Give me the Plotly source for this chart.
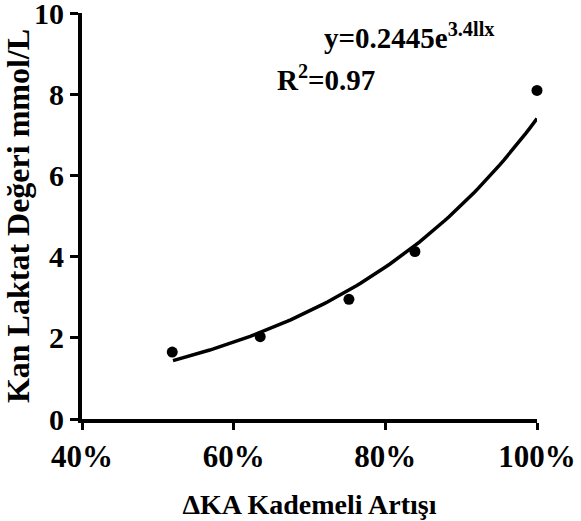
import numpy as np
import plotly.graph_objects as go

# Data
load_pct = [0.519, 0.635, 0.752, 0.839, 1.0]
lactate = [1.65, 2.03, 2.95, 4.13, 8.1]

# Displayed exponential trend: y = a * e^(b x)
fit_a = 0.2445
fit_b = 3.411
fit_x_start = 0.52
fit_x_end = 1.0

x_tick_vals = [0.4, 0.6, 0.8, 1.0]
x_tick_text = ["40%", "60%", "80%", "100%"]
y_tick_vals = [0, 2, 4, 6, 8, 10]

FONT = "Liberation Serif"

fit_x = np.linspace(fit_x_start, fit_x_end, 100)
fit_y = fit_a * np.exp(fit_b * fit_x)

fig = go.Figure()
fig.add_trace(go.Scatter(
    x=fit_x, y=fit_y, mode="lines",
    line=dict(color="black", width=3.5),
    cliponaxis=False, showlegend=False, hoverinfo="skip"))
fig.add_trace(go.Scatter(
    x=load_pct, y=lactate, mode="markers",
    marker=dict(color="black", size=11),
    cliponaxis=False, showlegend=False))

fig.update_layout(
    width=581, height=521,
    margin=dict(l=82, r=44, t=13, b=102),
    paper_bgcolor="white", plot_bgcolor="white",
    font=dict(family=FONT, color="black"),
    xaxis=dict(
        range=[0.4, 1.0], tickvals=x_tick_vals, ticktext=x_tick_text,
        showline=True, linecolor="black", linewidth=4,
        ticks="outside", ticklen=7, tickwidth=3, tickcolor="black",
        showgrid=False, zeroline=False, automargin=False,
        ticklabeloverflow="allow",
        tickfont=dict(family=FONT, size=31, color="black", weight="bold"),
        title=dict(text="<b>ΔKA Kademeli Artışı</b>",
                   font=dict(family=FONT, size=28, color="black"),
                   standoff=22),
    ),
    yaxis=dict(
        range=[0, 10.01], tickvals=y_tick_vals,
        showline=True, linecolor="black", linewidth=4,
        ticks="outside", ticklen=8, tickwidth=3, tickcolor="black",
        showgrid=False, zeroline=False, automargin=False,
        ticklabeloverflow="allow",
        tickfont=dict(family=FONT, size=30, color="black", weight="bold"),
        title=dict(text="<b>Kan Laktat Değeri mmol/L</b>",
                   font=dict(family=FONT, size=32, color="black"),
                   standoff=10),
    ),
)

fig.add_annotation(
    x=0.717, y=9.45, xref="x", yref="y", xanchor="left", yanchor="middle",
    text="<b>y=0.2445e<sup>3.4llx</sup></b>", showarrow=False,
    font=dict(family=FONT, size=29, color="black"))
fig.add_annotation(
    x=0.655, y=8.4, xref="x", yref="y", xanchor="left", yanchor="middle",
    text="<b>R<sup>2</sup>=0.97</b>", showarrow=False,
    font=dict(family=FONT, size=29, color="black"))

# remove the default page margin so the figure sits at the window's corner
fig.write_html("out.html",
               config={"displayModeBar": False},
               post_script="document.body.style.margin='0';")
